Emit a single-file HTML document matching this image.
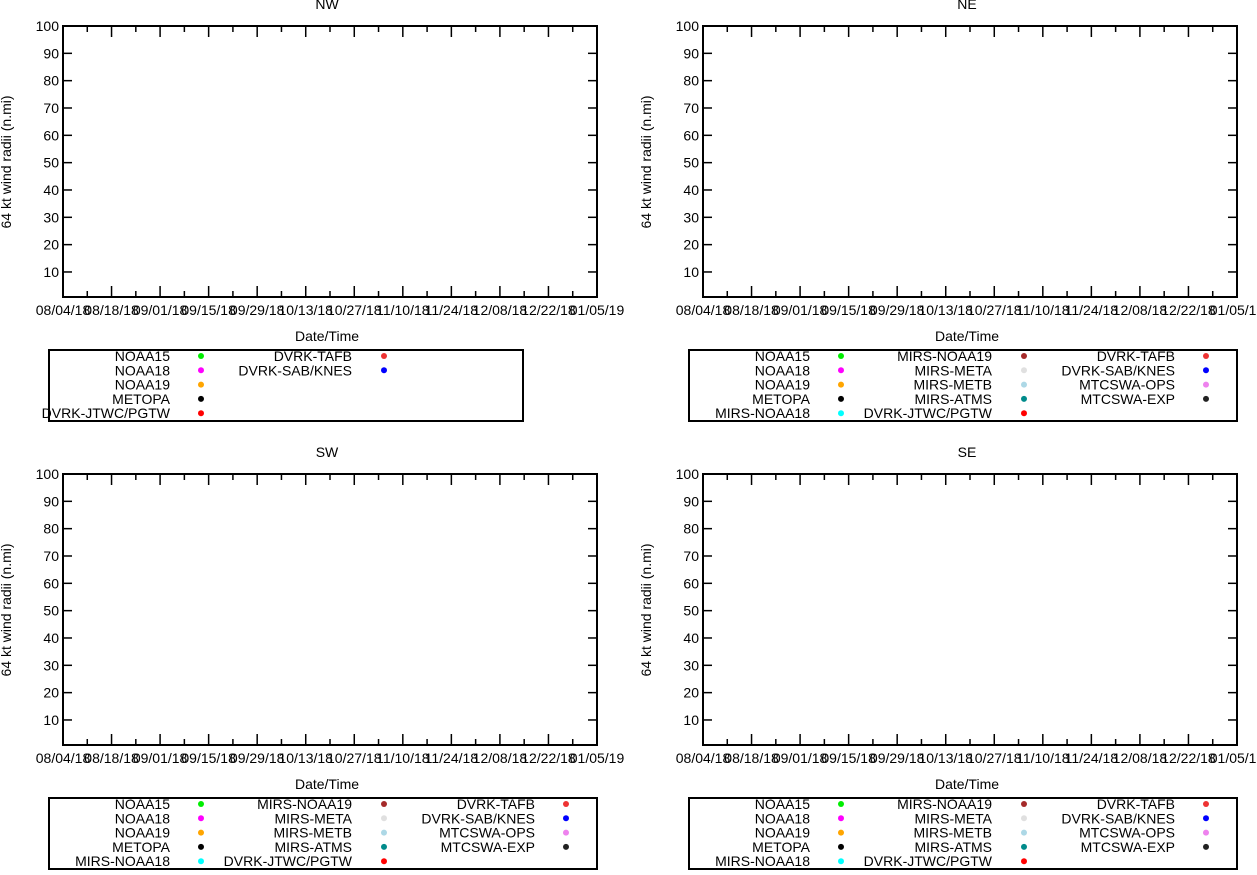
<!DOCTYPE html>
<html><head><meta charset="utf-8"><style>
html,body{margin:0;padding:0;background:#fff;}
svg text{font-family:"Liberation Sans",Arial,sans-serif;font-size:14px;fill:#000;}
</style></head><body>
<svg id="c" width="1257" height="870" xmlns="http://www.w3.org/2000/svg"></svg>
<script>
const dateLabels=["08/04/18","08/18/18","09/01/18","09/15/18","09/29/18","10/13/18","10/27/18","11/10/18","11/24/18","12/08/18","12/22/18","01/05/19"];
const yTicks=[10,20,30,40,50,60,70,80,90,100];
const nwSeries=[];const neSeries=[];const swSeries=[];const seSeries=[];
const legendSmall=[["NOAA15","#00ee00"],["NOAA18","#ff00ff"],["NOAA19","#ffa500"],["METOPA","#000000"],["DVRK-JTWC/PGTW","#ff0000"],["DVRK-TAFB","#ee3333"],["DVRK-SAB/KNES","#0000ff"]];
const legendFull=[["NOAA15","#00ee00"],["NOAA18","#ff00ff"],["NOAA19","#ffa500"],["METOPA","#000000"],["MIRS-NOAA18","#00ffff"],["MIRS-NOAA19","#a52a2a"],["MIRS-META","#e0e0e0"],["MIRS-METB","#add8e6"],["MIRS-ATMS","#008b8b"],["DVRK-JTWC/PGTW","#ff0000"],["DVRK-TAFB","#ee3333"],["DVRK-SAB/KNES","#0000ff"],["MTCSWA-OPS","#ee82ee"],["MTCSWA-EXP","#222222"]];
const svg=document.getElementById('c');
const NS="http://www.w3.org/2000/svg";
function mk(t,a,p){const e=document.createElementNS(NS,t);for(const k in a)e.setAttribute(k,a[k]);(p||svg).appendChild(e);return e;}
function panel(ox,oy,title,series,legend,name,boxW){
  const g=mk('g',{});
  
  
  const L=ox+63,R=ox+597,T=oy+26,B=oy+297;
  const ys=v=>oy+299.3-v*2.733;
  const xs=i=>L+i*(R-L)/(dateLabels.length-1);
  const t=mk('text',{x:(L+R)/2-3,y:oy+9,'text-anchor':'middle'},g);t.textContent=title;
  
  
  const fr=mk('rect',{x:L,y:T,width:R-L,height:B-T,fill:'none',stroke:'#000','stroke-width':2},g);
  
  
  yTicks.forEach(v=>{const y=ys(v);
    mk('line',{x1:L,x2:L+9,y1:y,y2:y,stroke:'#000','stroke-width':1.5},g);
    mk('line',{x1:R-9,x2:R,y1:y,y2:y,stroke:'#000','stroke-width':1.5},g);
    const tx=mk('text',{x:L-4,y:y+5,'text-anchor':'end'},g);tx.textContent=v;
    
    });
  dateLabels.forEach((d,i)=>{const x=xs(i);
    if(i>0&&i<dateLabels.length-1){mk('line',{x1:x,x2:x,y1:B,y2:B-11,stroke:'#000','stroke-width':1.5},g);
    mk('line',{x1:x,x2:x,y1:T,y2:T+11,stroke:'#000','stroke-width':1.5},g);}
    if(i<dateLabels.length-1){const xm=(x+xs(i+1))/2;
    mk('line',{x1:xm,x2:xm,y1:B,y2:B-6,stroke:'#000','stroke-width':1.5},g);
    mk('line',{x1:xm,x2:xm,y1:T,y2:T+6,stroke:'#000','stroke-width':1.5},g);}
    const tx=mk('text',{x:x,y:oy+315,'text-anchor':'middle'},g);tx.textContent=d;
    
    });
  series.forEach(p=>{const c=mk('circle',{cx:xs(p[0]),cy:ys(p[1]),r:3,fill:'#000'},g);
    
    });
  const xl=mk('text',{x:(L+R)/2-3,y:oy+341,'text-anchor':'middle'},g);xl.textContent='Date/Time';
  
  
  const yl=mk('text',{x:0,y:0,'text-anchor':'middle',transform:`translate(${ox+11},${oy+162}) rotate(-90)`},g);yl.textContent='64 kt wind radii (n.mi)';
  
  
  const lb=mk('rect',{x:ox+49,y:oy+350,width:boxW,height:71,fill:'none',stroke:'#000','stroke-width':2},g);
  
  
  const colsR=[170,352,535],dotX=[201,384,566];
  legend.forEach((e,i)=>{const col=Math.floor(i/5),row=i%5;const y=oy+356+row*14.3;
    const tx=mk('text',{x:ox+colsR[col],y:y+5,'text-anchor':'end'},g);tx.textContent=e[0];
    
    
    mk('circle',{cx:ox+dotX[col],cy:y,r:3,fill:e[1]},g);});
}
panel(0,0,'NW',nwSeries,legendSmall,'nw',474);
panel(640,0,'NE',neSeries,legendFull,'ne',548);
panel(0,448,'SW',swSeries,legendFull,'sw',548);
panel(640,448,'SE',seSeries,legendFull,'se',548);
</script>
</body></html>
